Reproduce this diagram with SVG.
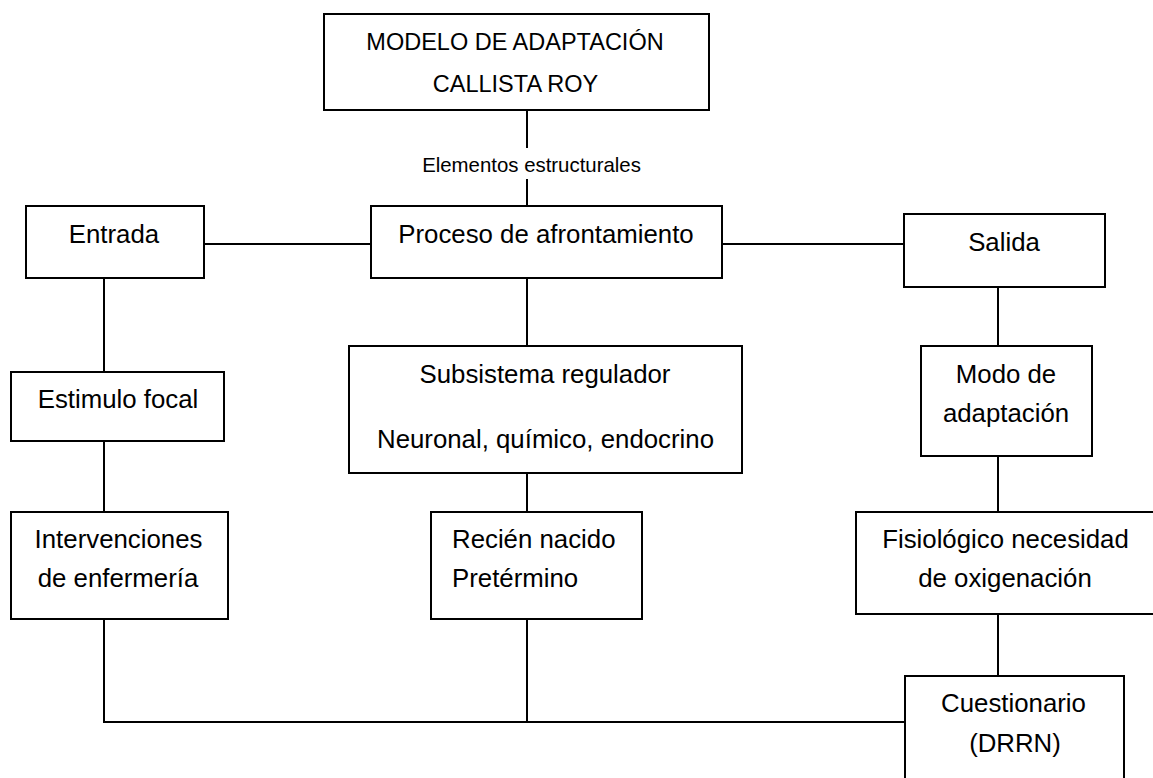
<svg xmlns="http://www.w3.org/2000/svg" width="1153" height="778" viewBox="0 0 1153 778">
<style>
.box{fill:#fff;stroke:#000;stroke-width:2}
.t{font-family:"Liberation Sans",Arial,sans-serif;font-size:25.8px;fill:#000;text-anchor:middle}
.l{text-anchor:start}
.title{font-size:23.5px}
.small{font-size:20.4px}
#connectors line,#connectors polyline{stroke:#000;stroke-width:2;fill:none}
</style>
<rect width="1153" height="778" fill="#fff"/>
<g id="connectors">
<line x1="527" y1="110" x2="527" y2="148"/>
<line x1="527" y1="179" x2="527" y2="206"/>
<line x1="204" y1="244" x2="371" y2="244"/>
<line x1="722" y1="244" x2="904" y2="244"/>
<line x1="104" y1="278" x2="104" y2="372"/>
<line x1="104" y1="441" x2="104" y2="512"/>
<line x1="527" y1="278" x2="527" y2="346"/>
<line x1="527" y1="473" x2="527" y2="512"/>
<line x1="998" y1="287" x2="998" y2="346"/>
<line x1="998" y1="456" x2="998" y2="512"/>
<line x1="998" y1="614" x2="998" y2="676"/>
<polyline points="104,619 104,722 905,722"/>
<line x1="527" y1="619" x2="527" y2="722"/>
</g>
<text class="t small" x="531.5" y="172">Elementos estructurales</text>
<g id="modelo">
<rect class="box" x="324" y="14" width="385" height="96"/>
<text class="t title" x="515" y="50">MODELO DE ADAPTACIÓN</text>
<text class="t title" x="515.5" y="92">CALLISTA ROY</text>
</g>
<g id="entrada">
<rect class="box" x="26" y="206" width="178" height="72"/>
<text class="t" x="114" y="243">Entrada</text>
</g>
<g id="proceso">
<rect class="box" x="371" y="206" width="351" height="72"/>
<text class="t" x="546" y="243">Proceso de afrontamiento</text>
</g>
<g id="salida">
<rect class="box" x="904" y="214" width="201" height="73"/>
<text class="t" x="1004" y="251">Salida</text>
</g>
<g id="estimulo">
<rect class="box" x="11" y="372" width="213" height="69"/>
<text class="t" x="118" y="408">Estimulo focal</text>
</g>
<g id="subsistema">
<rect class="box" x="349" y="346" width="393" height="127"/>
<text class="t" x="545" y="383">Subsistema regulador</text>
<text class="t" x="545.5" y="448">Neuronal, químico, endocrino</text>
</g>
<g id="modo">
<rect class="box" x="921" y="346" width="171" height="110"/>
<text class="t" x="1006" y="383">Modo de</text>
<text class="t" x="1006" y="422">adaptación</text>
</g>
<g id="intervenciones">
<rect class="box" x="11" y="512" width="217" height="107"/>
<text class="t" x="118.5" y="548">Intervenciones</text>
<text class="t" x="118" y="587">de enfermería</text>
</g>
<g id="recien">
<rect class="box" x="431" y="512" width="211" height="107"/>
<text class="t l" x="452" y="548">Recién nacido</text>
<text class="t l" x="452" y="587">Pretérmino</text>
</g>
<g id="fisiologico">
<rect class="box" x="856" y="512" width="310" height="102"/>
<text class="t" x="1005.5" y="548">Fisiológico necesidad</text>
<text class="t" x="1005" y="587">de oxigenación</text>
</g>
<g id="cuestionario">
<rect class="box" x="905" y="676" width="219" height="120"/>
<text class="t" x="1013.5" y="712">Cuestionario</text>
<text class="t" x="1015" y="752">(DRRN)</text>
</g>
</svg>
